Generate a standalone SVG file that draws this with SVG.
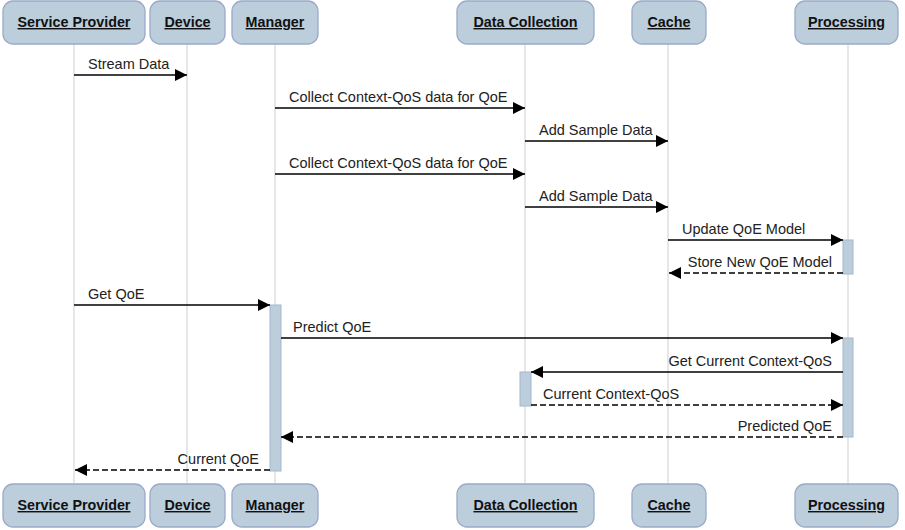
<svg xmlns="http://www.w3.org/2000/svg" width="905" height="530" viewBox="0 0 905 530">
  <defs>
    <marker id="arrow" viewBox="0 0 12 12" markerWidth="12" markerHeight="12" refX="12" refY="6" orient="auto" markerUnits="userSpaceOnUse">
      <path d="M0,0 L12,6 L0,12 Z" fill="#000"/>
    </marker>
    <style>
      .head rect { fill: #bccddb; stroke: #9aaac8; stroke-width: 1.3; }
      .head text { font-family: "Liberation Sans", Arial, sans-serif; font-size: 14.3px; font-weight: bold; fill: #111; text-anchor: middle; text-decoration: underline; }
      .life { stroke: #cfcfcf; stroke-width: 1; fill: none; }
      .act { fill: #bccddb; stroke: #a3b8cc; stroke-width: 1; }
      .msg { stroke: #000; stroke-width: 1.5; fill: none; marker-end: url(#arrow); }
      .ret { stroke-dasharray: 6 3; }
      .lbl { font-family: "Liberation Sans", Arial, sans-serif; font-size: 14.5px; fill: #222; }
      .end { text-anchor: end; }
    </style>
  </defs>

  <!-- lifelines -->
  <g id="lifelines">
    <line class="life" x1="74" y1="44" x2="74" y2="483"/>
    <line class="life" x1="187" y1="44" x2="187" y2="483"/>
    <line class="life" x1="275" y1="44" x2="275" y2="483"/>
    <line class="life" x1="525" y1="44" x2="525" y2="483"/>
    <line class="life" x1="668" y1="44" x2="668" y2="483"/>
    <line class="life" x1="848" y1="44" x2="848" y2="483"/>
  </g>

  <!-- participants (top and bottom heads) -->
  <g id="service-provider" class="head">
    <rect x="3" y="1" width="142" height="43" rx="10"/>
    <text x="74" y="27">Service Provider</text>
    <rect x="3" y="484" width="142" height="43" rx="10"/>
    <text x="74" y="510">Service Provider</text>
  </g>
  <g id="device" class="head">
    <rect x="150" y="1" width="75" height="43" rx="10"/>
    <text x="187.5" y="27">Device</text>
    <rect x="150" y="484" width="75" height="43" rx="10"/>
    <text x="187.5" y="510">Device</text>
  </g>
  <g id="manager" class="head">
    <rect x="232" y="1" width="86" height="43" rx="10"/>
    <text x="275" y="27">Manager</text>
    <rect x="232" y="484" width="86" height="43" rx="10"/>
    <text x="275" y="510">Manager</text>
  </g>
  <g id="data-collection" class="head">
    <rect x="457" y="1" width="137" height="43" rx="10"/>
    <text x="525.5" y="27">Data Collection</text>
    <rect x="457" y="484" width="137" height="43" rx="10"/>
    <text x="525.5" y="510">Data Collection</text>
  </g>
  <g id="cache" class="head">
    <rect x="632" y="1" width="74" height="43" rx="10"/>
    <text x="669" y="27">Cache</text>
    <rect x="632" y="484" width="74" height="43" rx="10"/>
    <text x="669" y="510">Cache</text>
  </g>
  <g id="processing" class="head">
    <rect x="795" y="1" width="103" height="43" rx="10"/>
    <text x="846.5" y="27">Processing</text>
    <rect x="795" y="484" width="103" height="43" rx="10"/>
    <text x="846.5" y="510">Processing</text>
  </g>

  <!-- activation bars -->
  <g id="activations">
    <rect class="act" x="843" y="240" width="10" height="34"/>
    <rect class="act" x="270" y="305" width="11" height="166"/>
    <rect class="act" x="843" y="338" width="10" height="99"/>
    <rect class="act" x="520" y="372" width="11" height="34"/>
  </g>

  <!-- messages -->
  <g id="connectors">
    <line class="msg" x1="74" y1="75" x2="187" y2="75"/>
    <text class="lbl" x="88" y="69">Stream Data</text>

    <line class="msg" x1="275" y1="108" x2="525" y2="108"/>
    <text class="lbl" x="289" y="102">Collect Context-QoS data for QoE</text>

    <line class="msg" x1="525" y1="141" x2="668" y2="141"/>
    <text class="lbl" x="539" y="135">Add Sample Data</text>

    <line class="msg" x1="275" y1="174" x2="525" y2="174"/>
    <text class="lbl" x="289" y="168">Collect Context-QoS data for QoE</text>

    <line class="msg" x1="525" y1="207" x2="668" y2="207"/>
    <text class="lbl" x="539" y="201">Add Sample Data</text>

    <line class="msg" x1="668" y1="240" x2="843" y2="240"/>
    <text class="lbl" x="682" y="234">Update QoE Model</text>

    <line class="msg ret" x1="843" y1="273" x2="669" y2="273"/>
    <text class="lbl end" x="832" y="267">Store New QoE Model</text>

    <line class="msg" x1="74" y1="305" x2="270" y2="305"/>
    <text class="lbl" x="88" y="299">Get QoE</text>

    <line class="msg" x1="281" y1="338" x2="843" y2="338"/>
    <text class="lbl" x="293" y="332">Predict QoE</text>

    <line class="msg" x1="843" y1="372" x2="531" y2="372"/>
    <text class="lbl end" x="832" y="366">Get Current Context-QoS</text>

    <line class="msg ret" x1="531" y1="405" x2="843" y2="405"/>
    <text class="lbl" x="543" y="399">Current Context-QoS</text>

    <line class="msg ret" x1="843" y1="437" x2="281" y2="437"/>
    <text class="lbl end" x="832" y="431">Predicted QoE</text>

    <line class="msg ret" x1="270" y1="470" x2="75" y2="470"/>
    <text class="lbl end" x="259" y="464">Current QoE</text>
  </g>
</svg>
